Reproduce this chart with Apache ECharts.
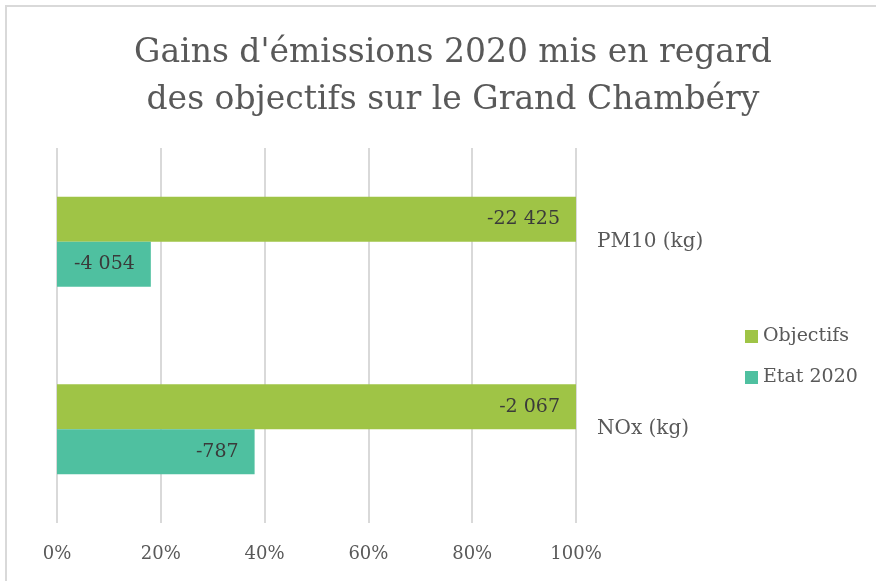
<!DOCTYPE html>
<html>
<head>
<meta charset="utf-8">
<script src="https://cdn.jsdelivr.net/npm/echarts@6/dist/echarts.min.js"></script>
<style>
    html, body { margin: 0; padding: 0; background: #fff; overflow: hidden; }
    #frame { position: absolute; left: 5px; top: 5px; width: 900px; height: 600px; border: 2px solid #d9d9d9; box-sizing: border-box; }
    #main { position: absolute; left: 0; top: 0; width: 876px; height: 581px; }
</style>
</head>
<body>
<div id="frame"></div>
<div id="main"></div>
<script>
    var categories = ['PM10 (kg)', 'NOx (kg)'];
    var seriesNames = ['Objectifs', 'Etat 2020'];
    // valeurs en kg (gains)
    var objectifsKg = [-22425, -2067];
    var etatKg = [-4054, -787];
    var tickLabels = ['0%', '20%', '40%', '60%', '80%', '100%'];
    var lineColor = ['#9fc446', '#4fc0a0'];

    var fontFamily = '"DejaVu Serif", serif';

    // part de l'objectif atteinte
    var objectifsPct = objectifsKg.map(function (v, i) { return 100; });
    var etatPct = etatKg.map(function (v, i) { return v / objectifsKg[i] * 100; });

    function fmt(v) {
        var s = Math.abs(v).toString().replace(/\B(?=(\d{3})+(?!\d))/g, ' ');
        return (v < 0 ? '-' : '') + s;
    }

    var myChart = echarts.init(document.getElementById('main'));

    var kgData = [objectifsKg, etatKg];
    var pctData = [objectifsPct, etatPct];
    var series = [];
    seriesNames.forEach(function (name, index) {
        series.push({
            name: name,
            type: 'bar',
            data: pctData[index],
            barGap: '0%',
            barCategoryGap: '52%',
            itemStyle: { color: lineColor[index] },
            label: {
                show: true,
                position: 'insideRight',
                distance: 16,
                color: '#3a3a3a',
                fontFamily: fontFamily,
                fontSize: 19,
                formatter: function (p) { return fmt(kgData[index][p.dataIndex]); }
            }
        });
    });

    var option = {
        animation: false,
        title: {
            text: 'Gains d\'émissions 2020 mis en regard\ndes objectifs sur le Grand Chambéry',
            left: 448,
            textAlign: 'center',
            top: 25,
            textStyle: {
                fontFamily: fontFamily,
                fontWeight: 'normal',
                fontSize: 33,
                lineHeight: 47,
                color: '#595959'
            }
        },
        legend: {
            orient: 'vertical',
            left: 740,
            top: 322,
            itemWidth: 13,
            itemHeight: 13,
            itemGap: 22,
            icon: 'rect',
            data: seriesNames,
            textStyle: { fontFamily: fontFamily, fontSize: 19, color: '#595959' }
        },
        grid: { left: 57, right: 300, top: 148, bottom: 58 },
        xAxis: {
            type: 'value',
            min: 0,
            max: 100,
            interval: 20,
            axisLine: { show: false },
            axisTick: { show: false },
            splitLine: { lineStyle: { color: '#d9d9d9', width: 2 } },
            axisLabel: {
                margin: 22,
                color: '#595959',
                fontFamily: fontFamily,
                fontSize: 18,
                formatter: function (v) { return tickLabels[v / 20]; }
            }
        },
        yAxis: {
            type: 'category',
            data: categories,
            inverse: true,
            position: 'right',
            axisLine: { show: false },
            axisTick: { show: false },
            axisLabel: {
                margin: 21,
                color: '#595959',
                fontFamily: fontFamily,
                fontSize: 20
            }
        },
        series: series
    };

    myChart.setOption(option);
</script>
</body>
</html>
